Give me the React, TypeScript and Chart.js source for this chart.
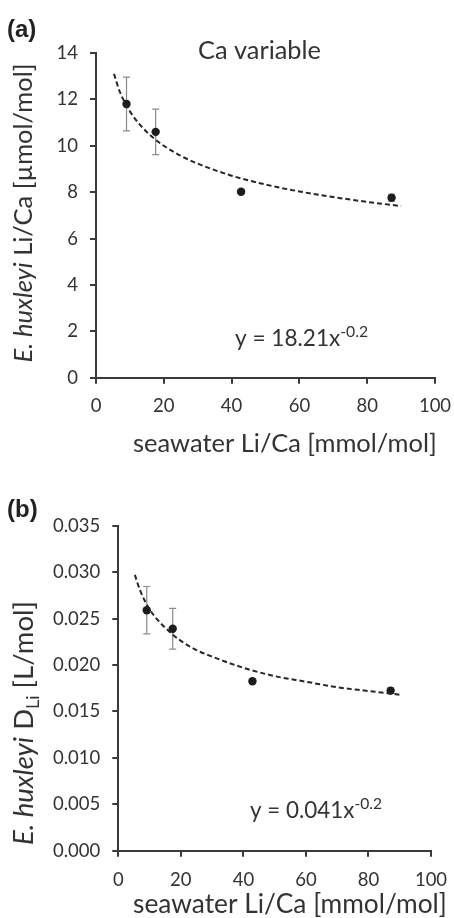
import React, { useEffect, useRef } from "react";
import { Chart, registerables } from "chart.js";
Chart.register(...registerables);

const FONT = "Lato";
const TEXT = "#333333";
const AXIS = "#3a3a3a";

// x ticks shared by both panels
const xTickValues = [0, 20, 40, 60, 80, 100];

// Panel (a): E. huxleyi Li/Ca vs seawater Li/Ca
const seawaterA = [9.0, 17.6, 42.8, 87.2];
const liCaA = [11.8, 10.6, 8.02, 7.76];
const liCaErrA = [1.16, 0.98, 0.08, 0.15];
const trendXA = [5.3, 7, 10, 13, 17, 20, 25, 30, 40, 50, 60, 70, 80, 90];
const trendYA = [13.1, 12.34, 11.49, 10.9, 10.33, 10.0, 9.57, 9.23, 8.71, 8.33, 8.03, 7.79, 7.58, 7.4];
const yTicksA = [0, 2, 4, 6, 8, 10, 12, 14];

// Panel (b): E. huxleyi D_Li vs seawater Li/Ca
const seawaterB = [9.1, 17.4, 42.9, 87.1];
const dLiB = [0.0259, 0.0239, 0.01825, 0.01724];
const dLiErrB = [0.00255, 0.0022, 0.0002, 0.0003];
const trendXB = [5.3, 7, 10, 13, 17, 20, 25, 30, 40, 50, 60, 70, 80, 90];
const trendYB = [0.0297, 0.028, 0.026, 0.0247, 0.0234, 0.0226, 0.0216, 0.0209, 0.0197, 0.0188, 0.0182, 0.0176, 0.0172, 0.0168];
const yTicksB = [0, 0.005, 0.01, 0.015, 0.02, 0.025, 0.03, 0.035];

type Run = { t: string; size: number; style?: string; dy?: number };

function fontOf(r: Run, k: number) {
  return `${r.style ? r.style + " " : ""}${(r.size * k).toFixed(2)}px ${FONT}`;
}

function runsWidth(ctx: CanvasRenderingContext2D, runs: Run[], k: number) {
  let w = 0;
  for (const r of runs) {
    ctx.font = fontOf(r, k);
    w += ctx.measureText(r.t).width;
  }
  return w;
}

// draw runs fitted to a target width, starting at x (left) on baseline y
function drawFitted(ctx: CanvasRenderingContext2D, runs: Run[], x: number, y: number, target: number) {
  const k = target / runsWidth(ctx, runs, 1);
  let cx = x;
  for (const r of runs) {
    ctx.font = fontOf(r, k);
    ctx.fillText(r.t, cx, y + (r.dy || 0) * k);
    cx += ctx.measureText(r.t).width;
  }
}

const errorBarPlugin = {
  id: "errorBars",
  beforeDatasetsDraw(chart: any) {
    const errs: number[] = chart.options.plugins.errorBars.errors;
    const ds = chart.data.datasets[1];
    const xs = chart.scales.x;
    const ys = chart.scales.y;
    const ctx = chart.ctx;
    ctx.save();
    ctx.strokeStyle = "#8a8a8a";
    ctx.lineWidth = 1.2;
    ds.data.forEach((p: any, i: number) => {
      const e = errs[i];
      const px = xs.getPixelForValue(p.x);
      const top = ys.getPixelForValue(p.y + e);
      const bot = ys.getPixelForValue(p.y - e);
      ctx.beginPath();
      ctx.moveTo(px, top);
      ctx.lineTo(px, bot);
      ctx.moveTo(px - 3.5, top);
      ctx.lineTo(px + 3.5, top);
      ctx.moveTo(px - 3.5, bot);
      ctx.lineTo(px + 3.5, bot);
      ctx.stroke();
    });
    ctx.restore();
  },
};

const textPlugin = {
  id: "panelText",
  afterDraw(chart: any) {
    const cfg = chart.options.plugins.panelText;
    const ctx: CanvasRenderingContext2D = chart.ctx;
    ctx.save();
    ctx.textBaseline = "alphabetic";
    ctx.textAlign = "left";
    // panel letter
    ctx.fillStyle = "#222";
    ctx.font = "bold 24px 'Liberation Sans', Arial, sans-serif";
    ctx.fillText(cfg.letter, cfg.letterX, cfg.letterY);
    ctx.fillStyle = TEXT;
    // extra label
    if (cfg.noteRuns) drawFitted(ctx, cfg.noteRuns, cfg.noteX, cfg.noteY, cfg.noteW);
    // equation
    drawFitted(ctx, cfg.eqRuns, cfg.eqX, cfg.eqY, cfg.eqW);
    // x title
    drawFitted(ctx, cfg.xRuns, cfg.xTitleX, cfg.xTitleY, cfg.xTitleW);
    // y title rotated
    ctx.save();
    ctx.translate(cfg.yTitleX, cfg.yTitleCY);
    ctx.rotate(-Math.PI / 2);
    drawFitted(ctx, cfg.yRuns, -cfg.yTitleW / 2, 0, cfg.yTitleW);
    ctx.restore();
    ctx.restore();
  },
};

function makeConfig(p: any) {
  return {
    type: "scatter",
    data: {
      datasets: [
        {
          type: "line",
          data: p.trendX.map((x: number, i: number) => ({ x, y: p.trendY[i] })),
          borderColor: "#262626",
          borderWidth: 2,
          borderDash: [5, 3],
          pointRadius: 0,
          fill: false,
          cubicInterpolationMode: "monotone",
        },
        {
          type: "scatter",
          data: p.xs.map((x: number, i: number) => ({ x, y: p.ys[i] })),
          backgroundColor: "#1c1c1c",
          borderColor: "#1c1c1c",
          pointRadius: 4.2,
          borderWidth: 0,
        },
      ],
    },
    options: {
      responsive: false,
      animation: false,
      devicePixelRatio: 1,
      layout: { padding: p.padding },
      plugins: {
        legend: { display: false },
        tooltip: { enabled: false },
        errorBars: { errors: p.errs },
        panelText: p.text,
      },
      scales: {
        x: {
          type: "linear",
          min: 0,
          max: 100,
          afterBuildTicks: (s: any) => {
            s.ticks = xTickValues.map((v) => ({ value: v }));
          },
          ticks: { font: { family: FONT, size: 18.5 }, color: TEXT, padding: p.xTickPad, maxRotation: 0 },
          grid: { drawOnChartArea: false, drawTicks: true, tickLength: 6, color: AXIS, lineWidth: 2 },
          border: { color: AXIS, width: 2 },
          afterFit: (s: any) => {
            s.height = p.xAxisHeight;
            s.paddingLeft = 0;
            s.paddingRight = 0;
          },
        },
        y: {
          type: "linear",
          min: p.yTicks[0],
          max: p.yTicks[p.yTicks.length - 1],
          afterBuildTicks: (s: any) => {
            s.ticks = p.yTicks.map((v: number) => ({ value: v }));
          },
          ticks: {
            font: { family: FONT, size: 18.5 },
            color: TEXT,
            padding: 12,
            callback: (v: number) => p.fmt(v),
          },
          grid: { drawOnChartArea: false, drawTicks: true, tickLength: 6, color: AXIS, lineWidth: 2 },
          border: { color: AXIS, width: 2 },
          afterFit: (s: any) => {
            s.width = p.yAxisWidth;
            s.paddingTop = 0;
            s.paddingBottom = 0;
          },
        },
      },
    },
    plugins: [errorBarPlugin, textPlugin],
  };
}

const panelA = {
  xs: seawaterA,
  ys: liCaA,
  errs: liCaErrA,
  trendX: trendXA,
  trendY: trendYA,
  yTicks: yTicksA,
  fmt: (v: number) => String(v),
  padding: { left: 0, right: 19, top: 53, bottom: 0 },
  yAxisWidth: 96,
  xAxisHeight: 81.3,
  xTickPad: 11,
  text: {
    letter: "(a)",
    letterX: 7,
    letterY: 37,
    noteRuns: [{ t: "Ca variable", size: 22 }],
    noteX: 198,
    noteY: 59,
    noteW: 123,
    eqRuns: [
      { t: "y = 18.21x", size: 23 },
      { t: "-0.2", size: 16, dy: -9 },
    ],
    eqX: 235,
    eqY: 346,
    eqW: 133,
    xRuns: [{ t: "seawater Li/Ca [mmol/mol]", size: 23 }],
    xTitleX: 133,
    xTitleY: 452,
    xTitleW: 304,
    yRuns: [
      { t: "E. huxleyi", size: 23, style: "italic" },
      { t: " Li/Ca [µmol/mol]", size: 23 },
    ],
    yTitleX: 32,
    yTitleCY: 213,
    yTitleW: 299,
  },
};

const panelB = {
  xs: seawaterB,
  ys: dLiB,
  errs: dLiErrB,
  trendX: trendXB,
  trendY: trendYB,
  yTicks: yTicksB,
  fmt: (v: number) => v.toFixed(3),
  padding: { left: 0, right: 23, top: 66.7, bottom: 0 },
  yAxisWidth: 118.3,
  xAxisHeight: 67.3,
  xTickPad: 12,
  text: {
    letter: "(b)",
    letterX: 7,
    letterY: 58,
    noteRuns: null,
    noteX: 0,
    noteY: 0,
    noteW: 0,
    eqRuns: [
      { t: "y = 0.041x", size: 23 },
      { t: "-0.2", size: 16, dy: -9 },
    ],
    eqX: 250,
    eqY: 359,
    eqW: 132,
    xRuns: [{ t: "seawater Li/Ca [mmol/mol]", size: 23 }],
    xTitleX: 133,
    xTitleY: 454,
    xTitleW: 314,
    yRuns: [
      { t: "E. huxleyi", size: 23, style: "italic" },
      { t: " D", size: 23 },
      { t: "Li", size: 15, dy: 5 },
      { t: " [L/mol]", size: 23 },
    ],
    yTitleX: 33,
    yTitleCY: 264,
    yTitleW: 244,
  },
};

function Panel({ cfg, top }: { cfg: any; top: number }) {
  const ref = useRef<HTMLCanvasElement>(null);
  useEffect(() => {
    if (!ref.current) return;
    const chart = new Chart(ref.current, makeConfig(cfg) as any);
    return () => chart.destroy();
  }, [cfg]);
  return (
    <canvas
      ref={ref}
      width={454}
      height={459}
      style={{ position: "absolute", left: 0, top, width: 454, height: 459 }}
    />
  );
}

export default function App() {
  return (
    <div style={{ position: "absolute", left: 0, top: 0, width: 454, height: 918, background: "#fff" }}>
      <Panel cfg={panelA} top={0} />
      <Panel cfg={panelB} top={459} />
    </div>
  );
}
